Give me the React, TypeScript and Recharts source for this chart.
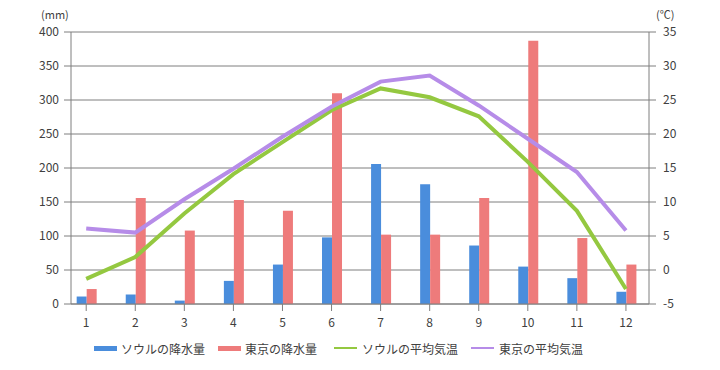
import { ComposedChart, Bar, Line, XAxis, YAxis, CartesianGrid } from 'recharts';

const months = [1, 2, 3, 4, 5, 6, 7, 8, 9, 10, 11, 12];
const seoulRain = [11, 14, 5, 34, 58, 98, 206, 176, 86, 55, 38, 18];
const tokyoRain = [22, 156, 108, 153, 137, 310, 102, 102, 156, 387, 97, 58];
const seoulTemp = [-1.3, 1.9, 8.3, 14.1, 18.8, 23.5, 26.7, 25.4, 22.6, 15.9, 8.7, -2.8];
const tokyoTemp = [6.1, 5.5, 10.4, 14.9, 19.6, 24.0, 27.7, 28.6, 24.2, 19.3, 14.4, 5.8];

const rainTicks = [0, 50, 100, 150, 200, 250, 300, 350, 400];
const tempTicks = [-5, 0, 5, 10, 15, 20, 25, 30, 35];

const legendItems = [
  { name: 'ソウルの降水量', color: '#4a8ddc', kind: 'bar', left: 94 },
  { name: '東京の降水量', color: '#ee7b7b', kind: 'bar', left: 218 },
  { name: 'ソウルの平均気温', color: '#94c840', kind: 'line', left: 334 },
  { name: '東京の平均気温', color: '#b68ce8', kind: 'line', left: 471 },
];

const data = months.map((m, i) => ({
  month: m,
  seoulRain: seoulRain[i],
  tokyoRain: tokyoRain[i],
  seoulTemp: seoulTemp[i],
  tokyoTemp: tokyoTemp[i],
}));

const font = '"Noto Sans CJK JP", "Noto Sans", sans-serif';
const axisColor = '#7f7f7f';
const tickStyle = { fill: '#404040', fontSize: 12, fontFamily: font };

export default function App() {
  return (
    <div style={{ position: 'relative', width: 720, height: 370, fontFamily: font }}>
      <style>{'body{margin:0}'}</style>
      <div style={{ position: 'absolute', left: 41, top: 6, fontSize: 11, color: '#404040' }}>(mm)</div>
      <div style={{ position: 'absolute', left: 656, top: 6, fontSize: 11, color: '#404040' }}>(℃)</div>
      <ComposedChart
        width={720}
        height={370}
        data={data}
        margin={{ top: 32, right: 0, bottom: 36, left: 0 }}
        barGap={0}
      >
        <CartesianGrid yAxisId="rain" vertical={false} stroke={axisColor} />
        <XAxis
          dataKey="month"
          type="number"
          domain={[0.69, 12.47]}
          ticks={months}
          allowDataOverflow
          height={30}
          stroke={axisColor}
          tickSize={7}
          tickMargin={7}
          tick={tickStyle}
        />
        <YAxis
          yAxisId="rain"
          width={71}
          domain={[0, 400]}
          ticks={rainTicks}
          stroke={axisColor}
          tickSize={7}
          tickMargin={5}
          tick={tickStyle}
        />
        <YAxis
          yAxisId="temp"
          orientation="right"
          width={71}
          domain={[-5, 35]}
          ticks={tempTicks}
          stroke={axisColor}
          tickSize={7}
          tickMargin={7}
          tick={tickStyle}
        />
        <Bar yAxisId="rain" dataKey="seoulRain" name="ソウルの降水量" fill="#4a8ddc" barSize={10} isAnimationActive={false} />
        <Bar yAxisId="rain" dataKey="tokyoRain" name="東京の降水量" fill="#ee7b7b" barSize={10} isAnimationActive={false} />
        <Line yAxisId="temp" dataKey="seoulTemp" name="ソウルの平均気温" stroke="#94c840" strokeWidth={4} dot={false} type="linear" isAnimationActive={false} />
        <Line yAxisId="temp" dataKey="tokyoTemp" name="東京の平均気温" stroke="#b68ce8" strokeWidth={4} dot={false} type="linear" isAnimationActive={false} />
      </ComposedChart>
      {legendItems.map((it) => (
        <div
          key={it.name}
          style={{ position: 'absolute', left: it.left, top: 340, height: 16, display: 'flex', alignItems: 'center', fontSize: 12, color: '#404040' }}
        >
          <span
            style={{
              display: 'inline-block',
              width: 23,
              height: it.kind === 'bar' ? 5 : 2,
              background: it.color,
              marginRight: it.kind === 'bar' ? 4 : 5,
            }}
          />
          <span>{it.name}</span>
        </div>
      ))}
    </div>
  );
}
